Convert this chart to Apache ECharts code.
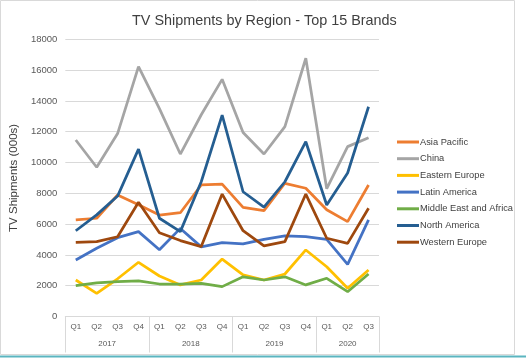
<!DOCTYPE html>
<html>
<head>
<meta charset="utf-8">
<script src="https://cdn.jsdelivr.net/npm/echarts@6/dist/echarts.min.js"></script>
<style>
html,body{margin:0;padding:0;background:#fff;}
#c{width:526px;height:358px;}
</style>
</head>
<body>
<div id="c"></div>
<script>
const quarters = ['Q1','Q2','Q3','Q4','Q1','Q2','Q3','Q4','Q1','Q2','Q3','Q4','Q1','Q2','Q3'];
const yearLabels = ['2017','2018','2019','2020'];
const yearCenters = [2, 6, 10, 13.5];
const yTicks = [0, 2000, 4000, 6000, 8000, 10000, 12000, 14000, 16000, 18000];

const asiaPacific   = [6270, 6380, 7890, 7260, 6590, 6740, 8540, 8600, 7090, 6870, 8650, 8330, 6930, 6160, 8540];
const china         = [11460, 9690, 11880, 16220, 13500, 10550, 13100, 15400, 11950, 10550, 12330, 16770, 8300, 11030, 11610];
const easternEurope = [2370, 1500, 2450, 3520, 2630, 2050, 2370, 3730, 2700, 2370, 2760, 4320, 3230, 1830, 3020];
const latinAmerica  = [3670, 4430, 5120, 5510, 4330, 5720, 4520, 4800, 4710, 5010, 5230, 5190, 5010, 3390, 6270];
const middleEastAfrica = [2000, 2190, 2260, 2320, 2110, 2110, 2150, 1940, 2580, 2370, 2580, 2050, 2480, 1610, 2760];
const northAmerica  = [5570, 6600, 7820, 10870, 6380, 5510, 8750, 13080, 8100, 7100, 8750, 11350, 7240, 9320, 13620];
const westernEurope = [4820, 4860, 5180, 7420, 5440, 4930, 4540, 7950, 5570, 4580, 4860, 7950, 5080, 4750, 7030];

const seriesNames = ['Asia Pacific','China','Eastern Europe','Latin America','Middle East and Africa','North America','Western Europe'];
const seriesData = [asiaPacific, china, easternEurope, latinAmerica, middleEastAfrica, northAmerica, westernEurope];
const colors = ['#ED7D31','#A5A5A5','#FFC000','#4472C4','#70AD47','#255E91','#9E480E'];

const chart = echarts.init(document.getElementById('c'), null, {renderer:'canvas'});
const font = 'Liberation Sans, Arial, sans-serif';
chart.setOption({
  animation: false,
  color: colors,
  textStyle: {fontFamily: font},
  title: {
    text: 'TV Shipments by Region - Top 15 Brands',
    left: 127, top: 9,
    textStyle: {fontSize: 14.4, fontWeight: 'normal', color: '#404040', fontFamily: font}
  },
  legend: {
    orient: 'vertical',
    left: 392, top: 131,
    itemWidth: 22, itemHeight: 3,
    itemGap: 4.7,
    icon: 'rect',
    textStyle: {fontSize: 9.3, color: '#404040', lineHeight: 12, fontFamily: font, padding: [0,0,0,-4]},
    data: seriesNames
  },
  grid: {left: 61, right: 147, top: 39.3, bottom: 41.5, containLabel: false},
  xAxis: [{
    type: 'category',
    data: quarters,
    boundaryGap: true,
    axisLine: {show: true, lineStyle: {color: '#d9d9d9', width: 1}},
    axisTick: {show: true, interval: function(i){ return i % 4 === 0; }, length: 36, lineStyle: {color: '#d9d9d9'}},
    axisLabel: {interval: 0, fontSize: 8, color: '#595959', margin: 6, fontFamily: font}
  }, {
    type: 'value',
    min: 0, max: 15, interval: 0.5,
    position: 'bottom',
    axisLine: {show: false}, axisTick: {show: false}, splitLine: {show: false},
    axisLabel: {
      fontSize: 8, color: '#595959', margin: 23, fontFamily: font, showMinLabel: true, showMaxLabel: true,
      formatter: function(v){ const k = yearCenters.indexOf(v); return k >= 0 ? yearLabels[k] : ''; }
    }
  }],
  yAxis: {
    type: 'value',
    min: yTicks[0], max: yTicks[yTicks.length-1], interval: 2000,
    name: 'TV Shipments (000s)',
    nameLocation: 'middle',
    nameGap: 28,
    nameTextStyle: {fontSize: 11.5, color: '#404040', fontFamily: font},
    axisLine: {show: false}, axisTick: {show: false},
    splitLine: {lineStyle: {color: '#d9d9d9', width: 1}},
    axisLabel: {fontSize: 9.5, color: '#595959', margin: 8, fontFamily: font, formatter: function(v){ return String(v); }}
  },
  series: seriesNames.map((n, i) => ({
    name: n,
    type: 'line',
    data: seriesData[i],
    symbol: 'none',
    lineStyle: {width: 2.75, color: colors[i]},
    itemStyle: {color: colors[i]}
  })),
  graphic: [
    {type: 'rect', shape: {x: 0.5, y: 0.5, width: 514, height: 354}, style: {fill: 'none', stroke: '#d9d9d9', lineWidth: 1}, silent: true},
    {type: 'line', shape: {x1: 0, y1: 356.5, x2: 526, y2: 356.5}, style: {stroke: '#5BB5C0', lineWidth: 2}, silent: true}
  ]
});
</script>
</body>
</html>
